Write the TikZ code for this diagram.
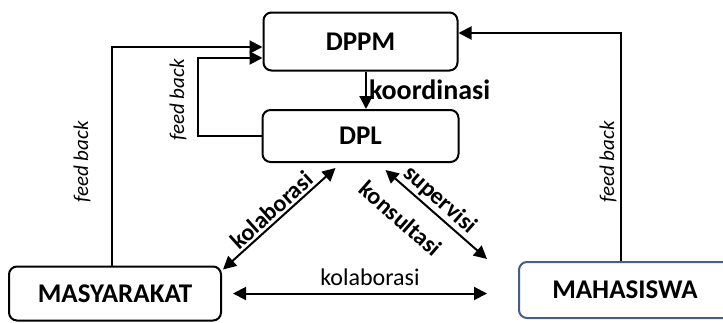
\documentclass[tikz,border=0pt]{standalone}
\usepackage{fontspec}
\setmainfont{Carlito}
\usetikzlibrary{arrows.meta}
\definecolor{mahablue}{RGB}{68,94,134}
\tikzset{
  box/.style={draw, line width=1pt, rounded corners=4pt, inner sep=0pt,
    font=\fontsize{13.5}{15}\selectfont\bfseries},
  arr/.style={line width=1pt, -{Triangle[length=6.5pt,width=6.5pt]}},
  darr/.style={line width=1pt, {Triangle[length=6.5pt,width=6.5pt]}-{Triangle[length=6.5pt,width=6.5pt]}},
  lab/.style={font=\fontsize{12}{13}\selectfont\bfseries, inner sep=1pt},
  fb/.style={font=\fontsize{10.5}{12}\selectfont\itshape, rotate=90},
}
\begin{document}
\begin{tikzpicture}[x=0.5pt, y=-0.5pt]
\useasboundingbox (0,0) rectangle (723,322);
\node[box, minimum width=97pt, minimum height=29pt] (dppm) at (360.5,41.5) {DPPM};
\node[box, minimum width=98pt, minimum height=26pt] (dpl) at (360.5,136) {DPL};
\node[box, minimum width=106pt, minimum height=27pt] (masy) at (115,293.5) {MASYARAKAT};
\node[box, draw=mahablue, minimum width=106pt, minimum height=28pt] (maha) at (625,290) {MAHASISWA};
\coordinate (fbl) at (112,47);
\coordinate (fbi) at (198,58);
\coordinate (fbr) at (621,33);
\coordinate (ko) at (366,0);
% feed back
\draw[arr] (masy.north -| fbl) |- (dppm.west |- fbl);
\draw[arr] (dpl.west) -| (fbi) -- (dppm.west |- fbi);
\draw[arr] (maha.north -| fbr) |- (dppm.east |- fbr);
\node[fb] (fbl_lab) at (82,162) {feed back};
\node[fb] (fbi_lab) at (178,100) {feed back};
\node[fb] (fbr_lab) at (608,162) {feed back};
% koordinasi
\draw[arr] (dppm.south -| ko) -- (dpl.north -| ko) node[midway, right, lab, font=\fontsize{14}{15}\selectfont\bfseries] {koordinasi};
% kolaborasi, supervisi
\draw[darr] ([shift={(1,4)}]masy.north east) -- ([shift={(-25,5)}]dpl.south) node[midway, sloped, above, lab] {kolaborasi};
\draw[darr] ([shift={(25,7)}]dpl.south) -- ([shift={(-31,-2)}]maha.north west)
  node[pos=0.45, sloped, above, lab] {supervisi}
  node[pos=0.32, sloped, below=7.5pt, lab] {konsultasi};
\draw[darr, shorten <=5.5pt, shorten >=15.5pt] (masy.east) -- (maha.west |- masy.east) node[midway, above, font=\fontsize{12}{13}\selectfont] {kolaborasi};
\end{tikzpicture}
\end{document}
